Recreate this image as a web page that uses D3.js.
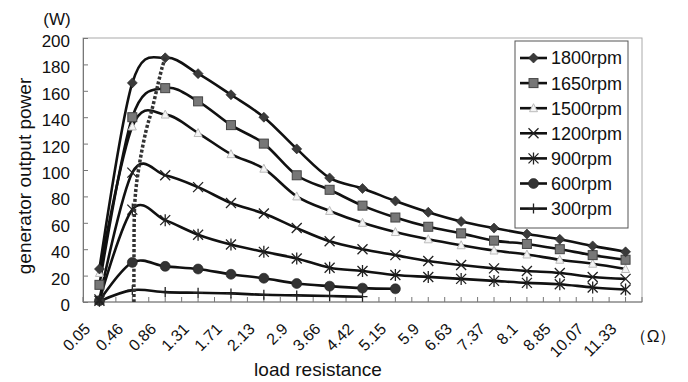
<!DOCTYPE html>
<html>
<head>
<meta charset="utf-8">
<script src="https://cdn.jsdelivr.net/npm/d3@7"></script>
<style>
  html, body { margin: 0; padding: 0; background: #fff; }
  svg { display: block; font-family: "Liberation Sans", Arial, sans-serif; }
</style>
</head>
<body>
<svg id="chart" width="688" height="382"></svg>
<script>
const resistance = ["0.05", "0.46", "0.86", "1.31", "1.71", "2.13", "2.9", "3.66", "4.42",
  "5.15", "5.9", "6.63", "7.37", "8.1", "8.85", "10.07", "11.33"];

const rpm1800 = [25, 166, 185, 173, 157, 140, 116, 94, 86, 76.5, 68, 61, 56, 51.5, 47.5, 42.5, 38];
const rpm1650 = [13, 140, 162, 152, 134, 120, 96, 85, 73, 64, 57, 52, 46.5, 44, 40, 35.5, 32];
const rpm1500 = [22, 133, 142, 128, 112, 101, 80, 69, 60, 53, 47.5, 43, 39, 36, 32, 29, 25];
const rpm1200 = [2, 98, 96, 87, 75, 67, 56, 46, 40, 35.5, 31, 28, 25.5, 23.5, 22, 19, 17.5];
const rpm900 = [1, 70, 62, 51, 43.5, 38, 33, 26, 23.5, 20.5, 19, 17.5, 16, 14.5, 13.5, 11, 9.5];
const rpm600 = [1, 30, 27, 25, 21, 18, 14, 12, 10.5, 10];
const rpm300 = [0.5, 9, 7.5, 7, 6.5, 5.5, 5, 4.5, 4];

// max power locus (category index, watts)
const peakLocus = [[1.05, 0], [1.05, 30], [1.08, 77], [1.2, 102], [1.42, 130], [1.6, 146],
  [1.79, 166], [1.91, 178], [2.0, 185]];

const yTicks = [0, 20, 40, 60, 80, 100, 120, 140, 160, 180, 200];

const series = [
  { name: "1800rpm", values: rpm1800, marker: "diamond" },
  { name: "1650rpm", values: rpm1650, marker: "square" },
  { name: "1500rpm", values: rpm1500, marker: "triangle" },
  { name: "1200rpm", values: rpm1200, marker: "cross" },
  { name: "900rpm", values: rpm900, marker: "star" },
  { name: "600rpm", values: rpm600, marker: "circle" },
  { name: "300rpm", values: rpm300, marker: "plus" }
];

const svg = d3.select("#chart");
const margin = { left: 83, right: 46, top: 38, bottom: 80 };
const W = 688, H = 382;
const plotW = W - margin.left - margin.right;
const plotH = H - margin.top - margin.bottom;

const x = d3.scaleBand().domain(resistance).range([margin.left, margin.left + plotW]);
const y = d3.scaleLinear().domain([0, 200]).range([margin.top + plotH, margin.top]);
const cx = (i) => x(resistance[i]) + x.bandwidth() / 2;
const xIdx = d3.scaleLinear().domain([0, resistance.length - 1]).range([cx(0), cx(resistance.length - 1)]);

// plot frame
svg.append("rect")
  .attr("x", margin.left).attr("y", margin.top)
  .attr("width", plotW).attr("height", plotH)
  .attr("fill", "#fff").attr("stroke", "#aaa").attr("stroke-width", 1);

// y axis
const yAxis = svg.append("g").attr("transform", `translate(${margin.left},0)`)
  .call(d3.axisLeft(y).tickValues(yTicks).tickSize(-5).tickPadding(13));
yAxis.select(".domain").attr("stroke", "#777");
yAxis.selectAll(".tick line").attr("stroke", "#777");
yAxis.selectAll(".tick text")
  .attr("font-size", 17).attr("fill", "#111")
  .attr("font-family", "Liberation Sans, Arial, sans-serif")
  .attr("dy", "0.5em");

// x axis with ticks at boundaries and centers
const xg = svg.append("g");
xg.append("line")
  .attr("x1", margin.left).attr("x2", margin.left + plotW)
  .attr("y1", y(0)).attr("y2", y(0))
  .attr("stroke", "#777");
const halfTicks = d3.range(0, resistance.length * 2 + 1);
xg.selectAll(".xt").data(halfTicks).join("line")
  .attr("x1", (d) => margin.left + d * x.bandwidth() / 2)
  .attr("x2", (d) => margin.left + d * x.bandwidth() / 2)
  .attr("y1", y(0)).attr("y2", y(0) - 5)
  .attr("stroke", "#777");
xg.selectAll(".xl").data(resistance).join("text")
  .attr("transform", (d, i) => `translate(${cx(i) - 12},${y(0) + 24}) rotate(-45)`)
  .attr("text-anchor", "end")
  .attr("dy", "0.35em")
  .attr("font-size", 16).attr("fill", "#111")
  .text((d) => d);

// titles
svg.append("text").attr("x", 57).attr("y", 25).attr("text-anchor", "middle")
  .attr("font-size", 17).attr("fill", "#111").text("(W)");
svg.append("text")
  .attr("transform", "translate(31,176) rotate(-90)")
  .attr("text-anchor", "middle").attr("font-size", 19).attr("fill", "#111")
  .text("generator output power");
svg.append("text").attr("x", 318).attr("y", 376).attr("text-anchor", "middle")
  .attr("font-size", 19).attr("fill", "#111").text("load resistance");
svg.append("text").attr("x", 653).attr("y", 342).attr("text-anchor", "middle")
  .attr("font-size", 17).attr("fill", "#111").text("（Ω）");

// markers
function drawMarker(g, type, px, py) {
  const s = 5;
  switch (type) {
    case "diamond":
      g.append("path").attr("d", `M${px},${py - s}L${px + s},${py}L${px},${py + s}L${px - s},${py}Z`)
        .attr("fill", "#3a3a3a").attr("stroke", "#222").attr("stroke-width", 0.6);
      break;
    case "square":
      g.append("rect").attr("x", px - 4.5).attr("y", py - 4.5).attr("width", 9).attr("height", 9)
        .attr("fill", "#777").attr("stroke", "#444").attr("stroke-width", 1);
      break;
    case "triangle":
      g.append("path").attr("d", `M${px},${py - 4.5}L${px + 4},${py + 3.5}L${px - 4},${py + 3.5}Z`)
        .attr("fill", "#f4f4f4").attr("stroke", "#bbb").attr("stroke-width", 1);
      break;
    case "cross":
      g.append("path").attr("d", `M${px - s},${py - s}L${px + s},${py + s}M${px - s},${py + s}L${px + s},${py - s}`)
        .attr("stroke", "#222").attr("stroke-width", 1.3).attr("fill", "none");
      break;
    case "star":
      g.append("path").attr("d", `M${px - s},${py - s}L${px + s},${py + s}M${px - s},${py + s}L${px + s},${py - s}M${px},${py - s - 1}L${px},${py + s + 1}`)
        .attr("stroke", "#222").attr("stroke-width", 1.3).attr("fill", "none");
      break;
    case "circle":
      g.append("circle").attr("cx", px).attr("cy", py).attr("r", 5)
        .attr("fill", "#333").attr("stroke", "#222").attr("stroke-width", 0.6);
      break;
    case "plus":
      g.append("path").attr("d", `M${px},${py - s}L${px},${py + s}M${px - s},${py}L${px + s},${py}`)
        .attr("stroke", "#222").attr("stroke-width", 1.3).attr("fill", "none");
      break;
  }
}

const line = d3.line()
  .x((d, i) => cx(i))
  .y((d) => y(d))
  .curve(d3.curveCardinal.tension(0));

const linesG = svg.append("g");
const markG = svg.append("g");
series.slice().reverse().forEach((s) => {
  linesG.append("path").datum(s.values)
    .attr("d", line)
    .attr("fill", "none").attr("stroke", "#111").attr("stroke-width", 2.6);
  s.values.forEach((v, i) => drawMarker(markG, s.marker, cx(i), y(v)));
});

// dotted locus of maximum power
svg.append("path").datum(peakLocus)
  .attr("d", d3.line().x((d) => xIdx(d[0])).y((d) => y(d[1])).curve(d3.curveCatmullRom))
  .attr("fill", "none").attr("stroke", "#333").attr("stroke-width", 3.5)
  .attr("stroke-dasharray", "3,2");

// legend
const lg = svg.append("g").attr("transform", "translate(515,41)");
lg.append("rect").attr("width", 113).attr("height", 187)
  .attr("fill", "#fff").attr("stroke", "#555").attr("stroke-width", 1);
series.forEach((s, i) => {
  const ly = 17 + i * 25.1;
  lg.append("line").attr("x1", 5).attr("x2", 32).attr("y1", ly).attr("y2", ly)
    .attr("stroke", "#111").attr("stroke-width", 2.6);
  drawMarker(lg, s.marker, 18.5, ly);
  lg.append("text").attr("x", 36).attr("y", ly).attr("dy", "0.36em")
    .attr("font-size", 18).attr("fill", "#111").text(s.name);
});
</script>
</body>
</html>
